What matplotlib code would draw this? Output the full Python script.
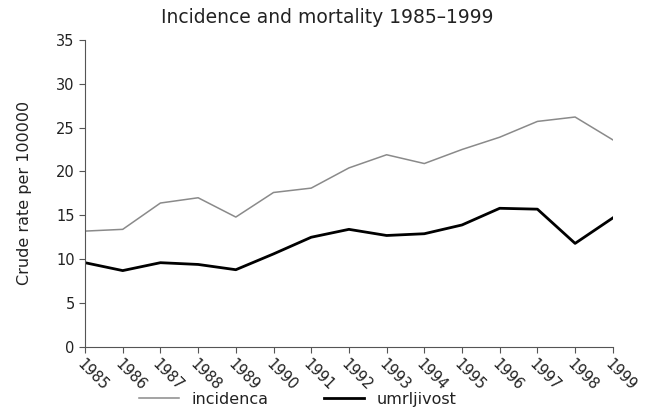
import matplotlib
matplotlib.use("Agg")
import matplotlib.pyplot as plt

years = list(range(1985, 2000))
incidenca = [13.2, 13.4, 16.4, 17.0, 14.8, 17.6, 18.1, 20.4, 21.9, 20.9, 22.5, 23.9, 25.7, 26.2, 23.6]
umrljivost = [9.6, 8.7, 9.6, 9.4, 8.8, 10.6, 12.5, 13.4, 12.7, 12.9, 13.9, 15.8, 15.7, 11.8, 14.7]

txt = "#222222"
fig = plt.figure(figsize=(6.54, 4.19), dpi=100)
ax = fig.add_axes([0.13, 0.172, 0.807, 0.733])

ax.plot(years, incidenca, color="#8a8a8a", lw=1.1, label="incidenca")
ax.plot(years, umrljivost, color="black", lw=2.0, label="umrljivost")

ax.set_xlim(1985, 1999)
ax.set_ylim(0, 35)
ax.set_yticks(range(0, 36, 5))
ax.set_xticks(years)
ax.set_xticklabels([str(y) for y in years], rotation=-45, ha="left", va="top",
                   rotation_mode="anchor")
ax.tick_params(labelsize=10.5, color="#555555", labelcolor=txt, width=0.8, length=4)
ax.tick_params(axis="x", pad=3)

for s in ["top", "right"]:
    ax.spines[s].set_visible(False)
for s in ["left", "bottom"]:
    ax.spines[s].set_color("#555555")
    ax.spines[s].set_linewidth(0.8)

ax.set_ylabel("Crude rate per 100000", fontsize=11.5, color=txt)
ax.yaxis.set_label_coords(-0.1, 0.5)
fig.suptitle("Incidence and mortality 1985\u20131999", fontsize=13.5, color=txt,
             x=0.5, y=0.98)

fig.legend(loc="lower left", bbox_to_anchor=(0.19, -0.005), ncol=2, frameon=False,
           fontsize=11.5, handlelength=2.5, columnspacing=3.5, labelcolor=txt)

fig.savefig("out.png", dpi=100)
